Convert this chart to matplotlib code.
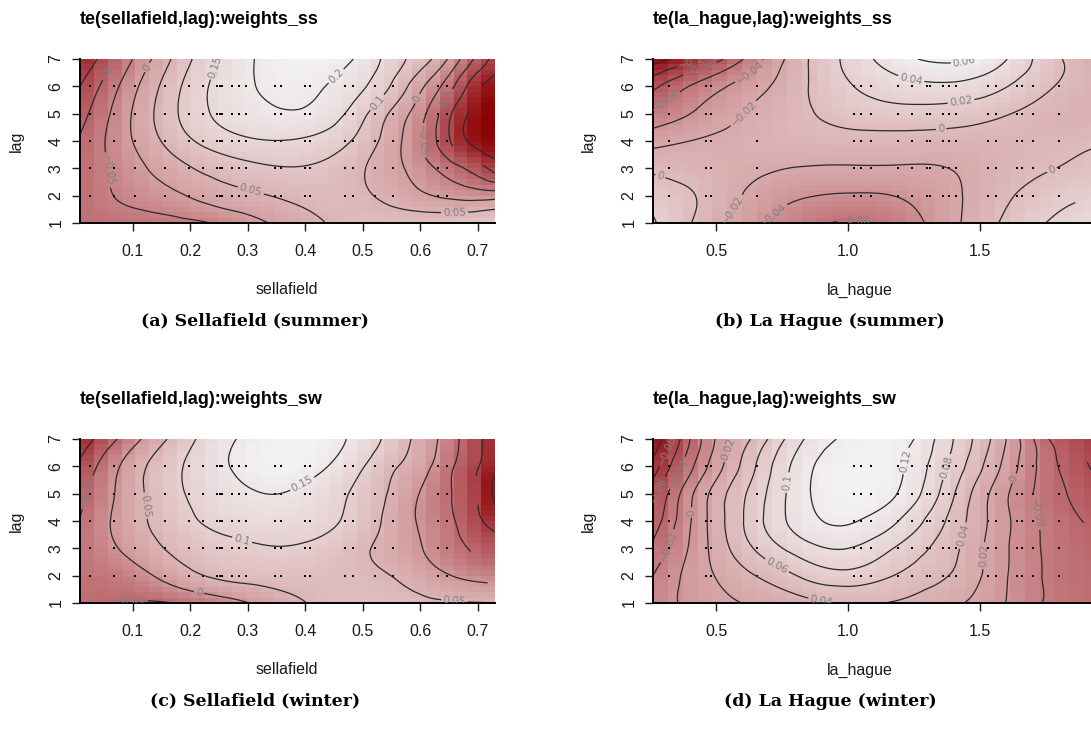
import numpy as np
import matplotlib
matplotlib.use("Agg")
import matplotlib.pyplot as plt
import matplotlib.tri as mtri
from matplotlib.colors import LinearSegmentedColormap

# lag values (rows of every surface grid)
lags = [1, 2, 3, 4, 5, 6, 7]

# grid nodes along the x variable
sella_x = [0.008, 0.09, 0.17, 0.25, 0.33, 0.41, 0.49, 0.57, 0.61, 0.65, 0.69, 0.73]
hague_x = [0.26, 0.45, 0.64, 0.82, 1.0, 1.19, 1.38, 1.57, 1.76, 1.95]

# partial effect, one row per lag (1 -> 7)
sella_summer = [
    [-0.08, -0.075, -0.065, -0.045, -0.003, 0.038, 0.07, 0.08, 0.085, 0.09, 0.1, 0.105],
    [-0.08, -0.04, -0.01, 0.025, 0.048, 0.065, 0.06, 0.025, 0.005, -0.01, -0.02, -0.02],
    [-0.085, -0.025, 0.03, 0.07, 0.093, 0.095, 0.06, 0.002, -0.035, -0.075, -0.115, -0.17],
    [-0.095, -0.01, 0.07, 0.125, 0.148, 0.14, 0.09, -0.003, -0.065, -0.145, -0.21, -0.235],
    [-0.12, -0.01, 0.09, 0.16, 0.19, 0.19, 0.125, 0.015, -0.05, -0.14, -0.21, -0.245],
    [-0.15, -0.029, 0.082, 0.165, 0.205, 0.208, 0.165, 0.064, -0.005, -0.08, -0.17, -0.225],
    [-0.2, -0.065, 0.055, 0.153, 0.21, 0.23, 0.195, 0.105, 0.065, -0.006, -0.095, -0.17],
]
hague_summer = [
    [0.022, -0.007, -0.035, -0.052, -0.062, -0.052, -0.027, 0.0, 0.021, 0.032],
    [0.012, -0.003, -0.025, -0.038, -0.042, -0.039, -0.025, -0.006, 0.011, 0.02],
    [-0.004, -0.01, -0.016, -0.021, -0.022, -0.022, -0.02, -0.01, -0.001, 0.006],
    [-0.027, -0.018, -0.012, -0.008, -0.007, -0.007, -0.008, -0.008, -0.006, -0.002],
    [-0.055, -0.035, -0.017, -0.004, 0.008, 0.013, 0.011, 0.003, -0.008, -0.012],
    [-0.085, -0.052, -0.028, -0.004, 0.018, 0.032, 0.036, 0.024, 0.002, -0.01],
    [-0.13, -0.098, -0.05, -0.006, 0.025, 0.053, 0.064, 0.046, 0.008, -0.015],
]
sella_winter = [
    [-0.045, -0.052, -0.05, -0.025, 0.015, 0.053, 0.065, 0.062, 0.058, 0.055, 0.052, 0.05],
    [-0.04, -0.023, 0.022, 0.058, 0.068, 0.07, 0.062, 0.042, 0.022, 0.002, -0.012, -0.02],
    [-0.042, 0.01, 0.058, 0.085, 0.097, 0.092, 0.062, 0.02, -0.004, -0.03, -0.054, -0.075],
    [-0.048, 0.024, 0.078, 0.112, 0.125, 0.118, 0.082, 0.018, -0.012, -0.04, -0.08, -0.12],
    [-0.065, 0.022, 0.088, 0.127, 0.15, 0.135, 0.09, 0.025, -0.011, -0.046, -0.088, -0.16],
    [-0.09, 0.015, 0.088, 0.14, 0.172, 0.164, 0.112, 0.044, 0.011, -0.04, -0.085, -0.14],
    [-0.13, -0.029, 0.061, 0.133, 0.168, 0.175, 0.136, 0.064, 0.024, -0.026, -0.078, -0.125],
]
hague_winter = [
    [-0.012, 0.01, 0.022, 0.032, 0.041, 0.038, 0.025, 0.004, -0.023, -0.035],
    [-0.02, 0.014, 0.039, 0.062, 0.073, 0.058, 0.04, 0.007, -0.023, -0.035],
    [-0.035, 0.015, 0.06, 0.09, 0.1, 0.077, 0.048, 0.008, -0.024, -0.04],
    [-0.052, 0.015, 0.07, 0.11, 0.122, 0.1, 0.057, 0.01, -0.026, -0.045],
    [-0.066, 0.013, 0.067, 0.113, 0.133, 0.119, 0.068, 0.01, -0.03, -0.055],
    [-0.092, -0.006, 0.057, 0.11, 0.133, 0.124, 0.078, 0.022, -0.032, -0.065],
    [-0.12, -0.017, 0.043, 0.097, 0.125, 0.13, 0.085, 0.03, -0.04, -0.075],
]

# observed covariate values (the small dots)
sella_obs = [0.025, 0.067, 0.103, 0.156, 0.197, 0.222, 0.247, 0.251, 0.255, 0.272,
             0.284, 0.297, 0.347, 0.358, 0.4, 0.408, 0.469, 0.483, 0.522, 0.553,
             0.63, 0.647]
hague_obs = [0.32, 0.46, 0.48, 0.655, 1.02, 1.05, 1.085, 1.19, 1.24, 1.30, 1.31,
             1.36, 1.38, 1.41, 1.53, 1.56, 1.64, 1.66, 1.70, 1.80]
obs_lags = [2, 3, 4, 5, 6]

titles = ["te(sellafield,lag):weights_ss", "te(la_hague,lag):weights_ss",
          "te(sellafield,lag):weights_sw", "te(la_hague,lag):weights_sw"]
captions = ["(a) Sellafield (summer)", "(b) La Hague (summer)",
            "(c) Sellafield (winter)", "(d) La Hague (winter)"]

W, H = 1091, 740
fig = plt.figure(figsize=(W / 100, H / 100), dpi=100)
cmap = LinearSegmentedColormap.from_list(
    "redwhite",
    [(0.0, "#8B0000"), (0.22, "#AE4A50"), (0.5, "#D29C9E"), (0.75, "#E4CBCC"), (1.0, "#F2F2F2")])
sans = "Liberation Sans"


def fmt(v):
    if abs(v) < 1e-9:
        return "0"
    return f"{v:g}".replace("-", "\u2212")


def panel(px_left, px_top, px_w, xs, grid, obs, step, xlim, xticks, xticklabels,
          title, xlabel, caption, label_x, ylabel_x, caption_x):
    px_h = 164
    ax = fig.add_axes([px_left / W, 1 - (px_top + px_h) / H, px_w / W, px_h / H])
    X, Y = np.meshgrid(xs, lags)
    z = np.array(grid).ravel()
    span = xs[-1] - xs[0]
    u = (X.ravel() - xs[0]) / span
    v = (Y.ravel() - 1) / 6.0
    tri = mtri.Triangulation(u, v)
    interp = mtri.CubicTriInterpolator(tri, z, kind="min_E")

    # raster like vis.gam (30 x 30 cells)
    ue = np.linspace(0, 1, 31)
    ve = np.linspace(0, 1, 31)
    uc = (ue[:-1] + ue[1:]) / 2
    vc = (ve[:-1] + ve[1:]) / 2
    UC, VC = np.meshgrid(uc, vc)
    zc = interp(UC, VC)
    zmin, zmax = float(np.min(z)), float(np.max(z))
    ax.pcolormesh(xs[0] + ue * span, 1 + 6 * ve, zc, cmap=cmap,
                  vmin=zmin, vmax=zmax, shading="flat")

    refiner = mtri.UniformTriRefiner(tri)
    tri_r, z_r = refiner.refine_field(z, triinterpolator=interp, subdiv=4)
    tri_d = mtri.Triangulation(xs[0] + tri_r.x * span, 1 + 6 * tri_r.y, tri_r.triangles)
    levels = np.round(np.arange(-0.3, 0.3001, step), 3)
    cs = ax.tricontour(tri_d, z_r, levels=levels, colors="#2b2b2b",
                       linewidths=0.9, linestyles="solid")
    labels = ax.clabel(cs, fontsize=7.5, colors="#808080", inline=True,
                       inline_spacing=2, fmt=fmt)
    for t in labels:
        if t.get_position()[0] > xlim[0] + 0.93 * (xlim[1] - xlim[0]):
            t.set_visible(False)

    ox, oy = np.meshgrid(obs, obs_lags)
    ax.scatter(ox.ravel(), oy.ravel(), s=0.6, c="black", marker="s", linewidths=0)

    ax.set_xlim(*xlim)
    ax.set_ylim(1, 7)
    ax.set_xticks(xticks)
    ax.set_xticklabels(xticklabels, fontfamily=sans, fontsize=11.5)
    ax.set_yticks(lags)
    ax.set_yticklabels([str(l) for l in lags], fontfamily=sans, fontsize=11.5,
                       rotation=90, va="center")
    for s in ["top", "right"]:
        ax.spines[s].set_visible(False)
    for s in ["left", "bottom"]:
        ax.spines[s].set_linewidth(1.4)
    ax.tick_params(axis="x", direction="out", length=6, width=1, pad=9, colors="#1a1a1a")
    ax.tick_params(axis="y", direction="out", length=6, width=1, pad=6, colors="#1a1a1a")

    fig.text(px_left / W, 1 - (px_top - 39) / H, title, fontfamily=sans,
             fontweight="bold", fontsize=13, ha="left", va="center")
    fig.text(label_x / W, 1 - (px_top + 231) / H, xlabel, fontfamily=sans,
             fontsize=11.5, ha="center", va="center", color="#1a1a1a")
    fig.text(ylabel_x / W, 1 - (px_top + 82) / H, "lag", fontfamily=sans,
             fontsize=11.5, ha="center", va="center", rotation=90, color="#1a1a1a")
    fig.text(caption_x / W, 1 - (px_top + 262) / H, caption, fontfamily="DejaVu Serif",
             fontweight="bold", fontsize=12.5, ha="center", va="center")


sx_ticks = [0.1, 0.2, 0.3, 0.4, 0.5, 0.6, 0.7]
hx_ticks = [0.5, 1.0, 1.5]

panel(80, 59, 415, sella_x, sella_summer, sella_obs, 0.05, (0.008, 0.73),
      sx_ticks, [f"{t:.1f}" for t in sx_ticks], titles[0], "sellafield", captions[0],
      287, 16, 255)
panel(653, 59, 446, hague_x, hague_summer, hague_obs, 0.02, (0.26, 1.95),
      hx_ticks, [f"{t:.1f}" for t in hx_ticks], titles[1], "la_hague", captions[1],
      860, 588, 830)
panel(80, 439, 415, sella_x, sella_winter, sella_obs, 0.05, (0.008, 0.73),
      sx_ticks, [f"{t:.1f}" for t in sx_ticks], titles[2], "sellafield", captions[2],
      287, 16, 255)
panel(653, 439, 446, hague_x, hague_winter, hague_obs, 0.02, (0.26, 1.95),
      hx_ticks, [f"{t:.1f}" for t in hx_ticks], titles[3], "la_hague", captions[3],
      860, 588, 830)

fig.savefig("out.png", dpi=100)
